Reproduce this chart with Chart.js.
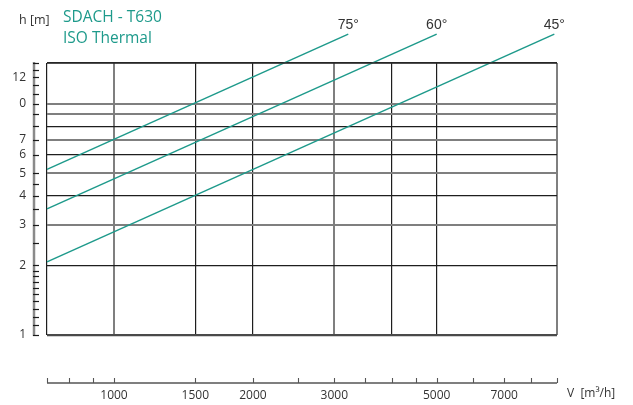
<!DOCTYPE html>
<html><head><meta charset="utf-8">
<script src="https://cdn.jsdelivr.net/npm/chart.js@4"></script>
<style>html,body{margin:0;padding:0;background:#fff}#wrap{position:relative;width:633px;height:405px}</style>
</head><body><div id="wrap"><canvas id="c" width="633" height="405"></canvas></div>
<script>
// ---- data ----
const seriesNames = ['75°', '60°', '45°'];
const seriesV = [[716, 3217], [716, 5000], [716, 8990]];
const seriesH = [[5.2, 20], [3.51, 20], [2.07, 20]];

const xTickValues = [716, 800, 900, 1000, 1500, 2000, 2500, 3000, 3500, 4000, 4500, 5000, 6000, 7000, 8000, 9110];
const xTickLabels = ['', '', '', '1000', '1500', '2000', '', '3000', '', '', '', '5000', '', '7000', '', ''];
const xGridValues = [716, 1000, 1500, 2000, 3000, 4000, 5000, 9110];
const xGridStyles = ['black', 'gray', 'black', 'black', 'gray', 'black', 'black', 'gray'];

const yTickValues = [1, 1.1, 1.2, 1.3, 1.4, 1.5, 1.6, 1.7, 1.8, 1.9, 2, 2.5, 3, 3.5, 4, 4.5, 5, 6, 7, 8, 9, 10, 11, 12, 13, 14, 15];
const yTickLabels = ['1', '', '', '', '', '', '', '', '', '', '2', '', '3', '', '4', '', '5', '6', '7', '', '', '0', '', '', '12', '', ''];
const yGridValues = [1, 2, 3, 4, 5, 6, 7, 8, 9, 10, 15];
const yGridStyles = ['bottom', 'black', 'gray', 'black', 'gray', 'black', 'gray', 'black', 'gray', 'gray', 'black'];

const titleLines = ['SDACH - T630', 'ISO Thermal'];
const yTitle = 'h [m]';
const xTitle = 'V  [m³/h]';

// ---- styles ----
const TEAL = '#1e9a8b';
const STY = {
  black: { c: '#1e1e1e', w: 1.2 },
  gray: { c: '#7f7f7f', w: 2 },
  bottom: { c: '#4a4a4a', w: 2.2 }
};
function gridStyle(vals, styles, v) {
  const i = vals.indexOf(v);
  return i < 0 ? null : STY[styles[i]];
}

const datasets = seriesNames.map((n, k) => ({
  label: n,
  data: seriesV[k].map((v, j) => ({ x: v, y: seriesH[k][j] })),
  showLine: true,
  borderColor: TEAL,
  backgroundColor: TEAL,
  borderWidth: 1.5,
  pointRadius: 0,
  clip: false
}));

const decor = {
  id: 'decor',
  afterDraw(chart) {
    const ctx = chart.ctx;
    const xs = chart.scales.x, ys = chart.scales.y;
    const ca = chart.chartArea;
    ctx.save();
    // left separate axis
    const ax = 34;
    ctx.strokeStyle = '#8a8a8a';
    ctx.lineWidth = 2.5;
    ctx.beginPath();
    ctx.moveTo(ax, ys.getPixelForValue(15) - 1);
    ctx.lineTo(ax, ys.getPixelForValue(1) + 1);
    ctx.stroke();
    ctx.strokeStyle = '#1a1a1a';
    ctx.lineWidth = 1.2;
    ys.ticks.forEach(t => {
      const y = Math.round(ys.getPixelForValue(t.value)) + 0.5;
      ctx.beginPath();
      ctx.moveTo(ax - 1, y);
      ctx.lineTo(ax + 5, y);
      ctx.stroke();
    });
    // bottom separate axis
    const by = 383;
    ctx.strokeStyle = '#555';
    ctx.lineWidth = 1.5;
    ctx.beginPath();
    ctx.moveTo(ca.left, by);
    ctx.lineTo(ca.right, by);
    ctx.stroke();
    ctx.lineWidth = 1.1;
    xs.ticks.forEach(t => {
      const x = Math.round(xs.getPixelForValue(t.value)) + 0.5;
      ctx.beginPath();
      ctx.moveTo(x, by);
      ctx.lineTo(x, by - 5);
      ctx.stroke();
    });
    // top border a bit heavier
    ctx.strokeStyle = '#2a2a2a';
    ctx.lineWidth = 1.6;
    ctx.beginPath();
    ctx.moveTo(ca.left, ca.top);
    ctx.lineTo(ca.right, ca.top);
    ctx.stroke();
    // texts
    ctx.fillStyle = '#333';
    ctx.font = '12.5px "Open Sans"';
    ctx.textAlign = 'left';
    ctx.textBaseline = 'alphabetic';
    ctx.fillText(yTitle, 19, 24);
    ctx.font = '12px "Open Sans"';
    ctx.fillText(xTitle, 567, 396.5);
    ctx.fillStyle = TEAL;
    ctx.font = '15.5px "Open Sans"';
    ctx.fillText(titleLines[0], 63, 22);
    ctx.fillText(titleLines[1], 63, 42.5);
    ctx.fillStyle = '#333';
    ctx.font = '14px "Liberation Sans"';
    ctx.textAlign = 'center';
    seriesNames.forEach((n, k) => {
      const last = seriesV[k].length - 1;
      const px = xs.getPixelForValue(seriesV[k][last]);
      const py = ys.getPixelForValue(seriesH[k][last]);
      ctx.fillText(n, px, py - 5.5);
    });
    ctx.restore();
  }
};

new Chart(document.getElementById('c'), {
  type: 'scatter',
  data: { datasets },
  plugins: [decor],
  options: {
    responsive: false,
    animation: false,
    events: [],
    layout: { padding: { left: 0, top: 63, right: 76, bottom: 0 } },
    plugins: { legend: { display: false }, tooltip: { enabled: false }, title: { display: false } },
    scales: {
      x: {
        type: 'logarithmic',
        min: 716, max: 9110,
        afterBuildTicks: s => { s.ticks = xTickValues.map(v => ({ value: v })); },
        afterFit: s => { s.height = 70; },
        border: { display: false },
        grid: {
          drawTicks: true, tickLength: 50, tickColor: 'rgba(0,0,0,0)',
          color: c => { const g = gridStyle(xGridValues, xGridStyles, c.tick.value); return g ? g.c : 'rgba(0,0,0,0)'; },
          lineWidth: c => { const g = gridStyle(xGridValues, xGridStyles, c.tick.value); return g ? g.w : 0; }
        },
        ticks: {
          autoSkip: false, maxRotation: 0, padding: 3,
          color: '#333', font: { family: 'Open Sans', size: 12 },
          callback: (v, i) => xTickLabels[i]
        }
      },
      y: {
        type: 'logarithmic',
        min: 1, max: 15,
        afterBuildTicks: s => { s.ticks = yTickValues.map(v => ({ value: v })); },
        afterFit: s => { s.width = 47; },
        border: { display: false },
        grid: {
          drawTicks: true, tickLength: 18, tickColor: 'rgba(0,0,0,0)',
          color: c => { const g = gridStyle(yGridValues, yGridStyles, c.tick.value); return g ? g.c : 'rgba(0,0,0,0)'; },
          lineWidth: c => { const g = gridStyle(yGridValues, yGridStyles, c.tick.value); return g ? g.w : 0; }
        },
        ticks: {
          autoSkip: false, padding: 3,
          color: '#333', font: { family: 'Open Sans', size: 12 },
          callback: (v, i) => yTickLabels[i]
        }
      }
    }
  }
});
</script></body></html>
